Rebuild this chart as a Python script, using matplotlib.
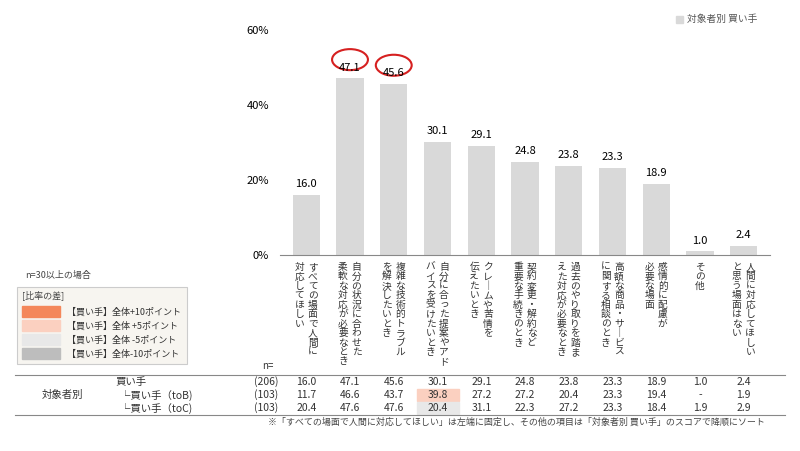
import matplotlib.pyplot as plt
import matplotlib.patches as patches

plt.rcParams['font.family'] = ['Noto Sans CJK JP', 'DejaVu Sans']

# 項目ラベル (縦書き: 右の列, 左の列)
labels = [
    ('すべての場面で人間に', '対応してほしい'),
    ('自分の状況に合わせた', '柔軟な対応が必要なとき'),
    ('複雑な技術的トラブル', 'を解決したいとき'),
    ('自分に合った提案やアド', 'バイスを受けたいとき'),
    ('クレームや苦情を', '伝えたいとき'),
    ('契約変更・解約など', '重要な手続きのとき'),
    ('過去のやり取りを踏ま', 'えた対応が必要なとき'),
    ('高額な商品・サービス', 'に関する相談のとき'),
    ('感情的に配慮が', '必要な場面'),
    ('その他', ''),
    ('人間に対応してほしい', 'と思う場面はない'),
]
buyer = [16.0, 47.1, 45.6, 30.1, 29.1, 24.8, 23.8, 23.3, 18.9, 1.0, 2.4]
buyer_b = ['11.7', '46.6', '43.7', '39.8', '27.2', '27.2', '20.4', '23.3', '19.4', '-', '1.9']
buyer_c = ['20.4', '47.6', '47.6', '20.4', '31.1', '22.3', '27.2', '23.3', '18.4', '1.9', '2.9']
row_names = ['買い手', '└買い手（toB)', '└買い手（toC)']
row_n = ['(206)', '(103)', '(103)']

W, H = 800, 451
fig = plt.figure(figsize=(8, 4.51), dpi=100)
ax = fig.add_axes([280 / W, 1 - 255 / H, 490 / W, 225 / H])
x = list(range(len(buyer)))
ax.bar(x, buyer, width=0.62, color='#d9d9d9')
ax.set_xlim(-0.6, len(buyer) - 0.4)
ax.set_ylim(0, 60)
ax.set_yticks([0, 20, 40, 60])
ax.set_yticklabels(['0%', '20%', '40%', '60%'], fontsize=8)
ax.set_xticks([])
for s in ['top', 'right', 'left']:
    ax.spines[s].set_visible(False)
ax.spines['bottom'].set_color('#888888')
ax.tick_params(axis='y', length=0, pad=8)
for i, v in enumerate(buyer):
    ax.text(i, v + 1.5, f'{v:.1f}', ha='center', va='bottom', fontsize=8)
    if i in (1, 2):
        ax.add_patch(patches.Ellipse((i, v + 5.0), 0.82, 5.6, fill=False,
                                     edgecolor='#d62020', lw=1.5, clip_on=False))

def px(xp, yp):
    return xp / W, 1 - yp / H

# 縦書きラベル
for i, (c1, c2) in enumerate(labels):
    xd = ax.transData.transform((i, 0))[0] * W / fig.bbox.width
    for off, col in ((6.5, c1), (-7.0, c2)):
        if not col:
            continue
        t = '\n'.join(ch if ch != 'ー' else '｜' for ch in col)
        fig.text(*px(xd + off if c2 else xd, 262), t, ha='center', va='top',
                 fontsize=7, linespacing=0.93, color='#333333')

# 凡例 (右上)
fig.patches.append(patches.Rectangle(px(676, 23), 7 / W, 7 / H, transform=fig.transFigure,
                                     color='#d9d9d9'))
fig.text(*px(687, 19), '対象者別 買い手', fontsize=7, va='center', color='#555555')

# 比率の差 凡例
fig.text(*px(25, 275), 'n=30以上の場合', fontsize=6.5, va='center', color='#444444')
fig.patches.append(patches.Rectangle(px(17, 364), 170 / W, 77 / H, transform=fig.transFigure,
                                     facecolor='#f7f5f0', edgecolor='#cccccc', lw=0.8))
fig.text(*px(22, 295), '[比率の差]', fontsize=6.5, va='center', color='#444444')
swatch = ['#f4875a', '#fbd0c0', '#e8e8e8', '#bdbdbd']
leg = ['【買い手】全体+10ポイント', '【買い手】全体 +5ポイント',
       '【買い手】全体 -5ポイント', '【買い手】全体-10ポイント']
for k, (c, t) in enumerate(zip(swatch, leg)):
    yc = 312 + k * 14
    fig.patches.append(patches.Rectangle(px(22, yc + 5), 38 / W, 11 / H,
                                         transform=fig.transFigure, color=c))
    fig.text(*px(67, yc), t, fontsize=6.5, va='center', color='#333333')

# 表
fig.text(*px(262, 366), 'n=', fontsize=7, va='center', color='#333333')
fig.lines.append(plt.Line2D([15 / W, 785 / W], [1 - 375 / H] * 2, transform=fig.transFigure,
                            color='#888888', lw=0.8))
fig.lines.append(plt.Line2D([15 / W, 785 / W], [1 - 415 / H] * 2, transform=fig.transFigure,
                            color='#888888', lw=0.8))
fig.text(*px(42, 395), '対象者別', fontsize=7.5, va='center', color='#333333')
rows = [[f'{v:.1f}' for v in buyer], buyer_b, buyer_c]
for r, (name, n, vals) in enumerate(zip(row_names, row_n, rows)):
    yc = 382 + r * 13
    fig.text(*px(115 if r == 0 else 120, yc), name, fontsize=7.5, va='center', color='#333333')
    fig.text(*px(266, yc), n, fontsize=7.5, va='center', ha='center', color='#333333')
    for i, v in enumerate(vals):
        xd = ax.transData.transform((i, 0))[0] * W / fig.bbox.width
        if r == 1 and i == 3:
            fig.patches.append(patches.Rectangle(px(xd - 21, yc + 6), 42 / W, 12 / H,
                                                 transform=fig.transFigure, color='#fbd0c0'))
        if r == 2 and i == 3:
            fig.patches.append(patches.Rectangle(px(xd - 21, yc + 6), 42 / W, 12 / H,
                                                 transform=fig.transFigure, color='#e8e8e8'))
        fig.text(*px(xd, yc), v, fontsize=7.5, va='center', ha='center', color='#333333')

fig.text(*px(765, 422), '※「すべての場面で人間に対応してほしい」は左端に固定し、その他の項目は「対象者別 買い手」のスコアで降順にソート',
         fontsize=6.5, ha='right', va='center', color='#444444')

fig.savefig('out.png', dpi=100)
